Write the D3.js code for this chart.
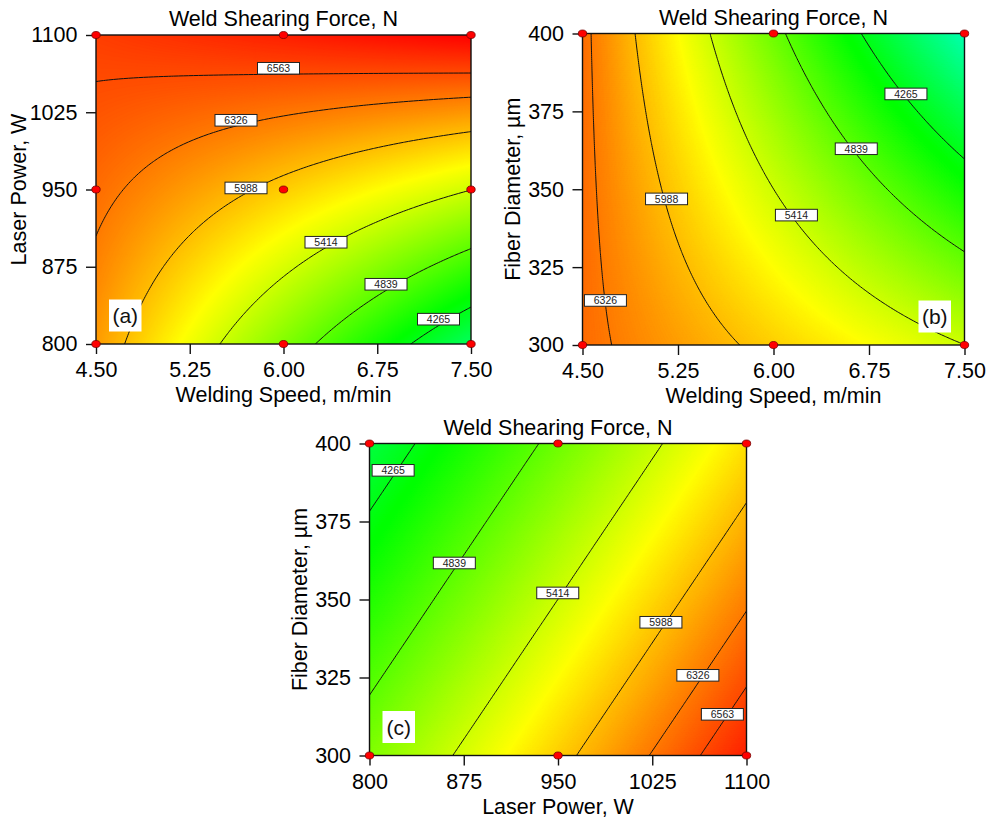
<!DOCTYPE html>
<html>
<head>
<meta charset="utf-8">
<script src="https://cdn.jsdelivr.net/npm/d3@7"></script>
<style>
  body { margin: 0; background: #fff; }
  text { font-family: "Liberation Sans", Arial, sans-serif; }
</style>
</head>
<body>
<svg id="chart" width="997" height="820"></svg>
<script>
// tick values of the three factors
const speedTicks = [4.5, 5.25, 6.0, 6.75, 7.5];
const powerTicks = [800, 875, 950, 1025, 1100];
const diameterTicks = [300, 325, 350, 375, 400];

// contour levels printed on the plots
const levels = [4265, 4839, 5414, 5988, 6326, 6563];

// weld shearing force (N) at the tick grid
// rows = y ticks from bottom to top, columns = x ticks left to right
const forceSpeedPower = [
  [6160, 5596, 5031, 4467, 3902],
  [6279, 5874, 5470, 5065, 4661],
  [6397, 6153, 5908, 5664, 5419],
  [6516, 6431, 6347, 6262, 6178],
  [6634, 6710, 6785, 6861, 6936]
];
const forceSpeedDiameter = [
  [6404, 6150, 5900, 5656, 5416],
  [6401, 6027, 5658, 5293, 4934],
  [6398, 5904, 5415, 4931, 4452],
  [6395, 5781, 5173, 4569, 3970],
  [6392, 5659, 4930, 4207, 3488]
];
const forcePowerDiameter = [
  [5027, 5465, 5902, 6340, 6777],
  [4784, 5221, 5659, 6096, 6534],
  [4540, 4978, 5415, 5853, 6290],
  [4297, 4734, 5172, 5609, 6047],
  [4053, 4491, 4928, 5366, 5803]
];

// where the contour labels sit, in data units [x, y, level]
const labelsA = [[5.96, 1067.7, 6563], [5.62, 1017.2, 6326], [5.70, 951.5, 5988],
                 [6.34, 898.8, 5414], [6.82, 858.0, 4839], [7.24, 824.1, 4265]];
const labelsB = [[4.68, 314.3, 6326], [5.16, 346.9, 5988], [6.18, 341.7, 5414],
                 [6.65, 363.0, 4839], [7.04, 380.6, 4265]];
const labelsC = [[818.8, 391.4, 4265], [867.5, 361.7, 4839], [949.8, 352.1, 5414],
                 [1031.9, 342.7, 5988], [1061.3, 325.7, 6326], [1080.8, 313.2, 6563]];

// design points shown as red dots
const pointsA = [[4.5, 800], [6, 800], [7.5, 800], [4.5, 950], [6, 950], [7.5, 950],
                 [4.5, 1100], [6, 1100], [7.5, 1100]];
const pointsB = [[4.5, 300], [6, 300], [7.5, 300], [4.5, 400], [6, 400], [7.5, 400]];
const pointsC = [[800, 300], [950, 300], [1100, 300], [800, 400], [950, 400], [1100, 400]];

const svg = d3.select('#chart');
const FONT = 21.5;
const N = 151;

// green-yellow-red colour ramp like the original software
const color = d3.scaleLinear()
  .domain([3100, 4380, 5660, 6940])
  .range(['#00ffff', '#00ff00', '#ffff00', '#ff0000'])
  .clamp(true);

const panels = [
  { grid: forceSpeedPower, xt: speedTicks, yt: powerTicks, xf: d3.format('.2f'), yf: d3.format('d'),
    xTitle: 'Welding Speed, m/min', yTitle: 'Laser Power, W', tag: '(a)',
    left: 96, right: 471, top: 35, bottom: 344, yTitleOff: 70, tagPos: 'left',
    labels: labelsA, points: pointsA },
  { grid: forceSpeedDiameter, xt: speedTicks, yt: diameterTicks, xf: d3.format('.2f'), yf: d3.format('d'),
    xTitle: 'Welding Speed, m/min', yTitle: 'Fiber Diameter, \u00b5m', tag: '(b)',
    left: 582.5, right: 964.5, top: 33.5, bottom: 345, yTitleOff: 62.5, tagPos: 'right',
    labels: labelsB, points: pointsB },
  { grid: forcePowerDiameter, xt: powerTicks, yt: diameterTicks, xf: d3.format('d'), yf: d3.format('d'),
    xTitle: 'Laser Power, W', yTitle: 'Fiber Diameter, \u00b5m', tag: '(c)',
    left: 369.5, right: 746.5, top: 443.5, bottom: 755.5, yTitleOff: 62.5, tagPos: 'left',
    labels: labelsC, points: pointsC }
];

// smooth cubic resampling of a 5-point row (ends extended quadratically)
function resample(arr, n) {
  const m = arr.length;
  const g = [3 * arr[0] - 3 * arr[1] + arr[2], ...arr, 3 * arr[m - 1] - 3 * arr[m - 2] + arr[m - 3]];
  const out = new Array(n);
  for (let k = 0; k < n; k++) {
    const u = k / (n - 1) * (m - 1);
    const i = Math.min(Math.floor(u), m - 2);
    const t = u - i;
    const p0 = g[i], p1 = g[i + 1], p2 = g[i + 2], p3 = g[i + 3];
    out[k] = 0.5 * (2 * p1 + (-p0 + p2) * t + (2 * p0 - 5 * p1 + 4 * p2 - p3) * t * t +
                    (-p0 + 3 * p1 - 3 * p2 + p3) * t * t * t);
  }
  return out;
}

function field(grid, n) {
  const rows = grid.map(r => resample(r, n));
  const values = new Float64Array(n * n);
  for (let k = 0; k < n; k++) {
    const col = resample(rows.map(r => r[k]), n);
    for (let j = 0; j < n; j++) values[j * n + k] = col[j];
  }
  return values;
}

panels.forEach((p, idx) => {
  const x = d3.scaleLinear().domain([p.xt[0], p.xt[p.xt.length - 1]]).range([p.left, p.right]);
  const y = d3.scaleLinear().domain([p.yt[0], p.yt[p.yt.length - 1]]).range([p.bottom, p.top]);
  const values = field(p.grid, N);

  // grid coordinate -> pixel
  const gx = c => x(p.xt[0] + (c - 0.5) / (N - 1) * (p.xt[p.xt.length - 1] - p.xt[0]));
  const gy = c => y(p.yt[0] + (c - 0.5) / (N - 1) * (p.yt[p.yt.length - 1] - p.yt[0]));
  const path = d3.geoPath(d3.geoTransform({
    point: function (a, b) { this.stream.point(gx(a), gy(b)); }
  }));

  const clipId = 'clip' + idx;
  svg.append('clipPath').attr('id', clipId)
    .append('rect').attr('x', p.left).attr('y', p.top)
    .attr('width', p.right - p.left).attr('height', p.bottom - p.top);

  const g = svg.append('g');
  const plot = g.append('g').attr('clip-path', `url(#${clipId})`);

  // filled colour gradient as many thin bands
  const [vmin, vmax] = d3.extent(values);
  const step = 8;
  const fine = d3.range(Math.floor(vmin / step) * step, vmax, step);
  const bands = d3.contours().size([N, N]).thresholds(fine)(values);
  plot.selectAll('path.band').data(bands).join('path')
    .attr('class', 'band')
    .attr('d', path)
    .attr('fill', d => color(d.value + step / 2))
    .attr('stroke', d => color(d.value + step / 2))
    .attr('stroke-width', 0.6);

  // contour lines
  const lines = d3.contours().size([N, N]).thresholds(levels)(values);
  plot.selectAll('path.iso').data(lines).join('path')
    .attr('class', 'iso')
    .attr('d', path)
    .attr('fill', 'none')
    .attr('stroke', '#111')
    .attr('stroke-width', 1);

  // contour labels
  const lab = plot.selectAll('g.lab').data(p.labels).join('g')
    .attr('class', 'lab')
    .attr('transform', d => `translate(${x(d[0])},${y(d[1])})`);
  lab.append('rect')
    .attr('x', -21).attr('y', -5.8).attr('width', 42).attr('height', 11.6)
    .attr('fill', '#fff').attr('stroke', '#222').attr('stroke-width', 1);
  lab.append('text')
    .attr('text-anchor', 'middle').attr('dy', '0.36em')
    .attr('font-size', 10.5).attr('fill', '#222')
    .text(d => d[2]);

  // panel tag
  const tagX = p.tagPos === 'left' ? p.left + 13 : p.right - 46;
  const tag = plot.append('g').attr('transform', `translate(${tagX},${p.bottom - 44.5})`);
  tag.append('rect').attr('width', 32.5).attr('height', 32).attr('fill', '#fff');
  tag.append('text').attr('x', 16.25).attr('y', 23.5)
    .attr('text-anchor', 'middle').attr('font-size', 21).attr('fill', '#111')
    .text(p.tag);

  // frame
  g.append('rect')
    .attr('x', p.left).attr('y', p.top)
    .attr('width', p.right - p.left).attr('height', p.bottom - p.top)
    .attr('fill', 'none').attr('stroke', '#111').attr('stroke-width', 1.4);

  // axes
  const ax = g.append('g').attr('transform', `translate(0,${p.bottom})`)
    .call(d3.axisBottom(x).tickValues(p.xt).tickFormat(p.xf).tickSize(10).tickSizeOuter(0).tickPadding(8.2));
  const ay = g.append('g').attr('transform', `translate(${p.left},0)`)
    .call(d3.axisLeft(y).tickValues(p.yt).tickFormat(p.yf).tickSize(10).tickSizeOuter(0).tickPadding(8.5));
  [ax, ay].forEach(a => {
    a.select('.domain').remove();
    a.selectAll('line').attr('stroke', '#111').attr('stroke-width', 1.4);
    a.selectAll('text').attr('font-size', FONT).attr('fill', '#000')
      .attr('font-family', '"Liberation Sans", Arial, sans-serif');
  });

  // titles
  const cx = (p.left + p.right) / 2;
  const cy = (p.top + p.bottom) / 2;
  g.append('text').attr('x', cx).attr('y', p.top - 9)
    .attr('text-anchor', 'middle').attr('font-size', FONT)
    .text('Weld Shearing Force, N');
  g.append('text').attr('x', cx).attr('y', p.bottom + 58)
    .attr('text-anchor', 'middle').attr('font-size', FONT)
    .text(p.xTitle);
  g.append('text')
    .attr('transform', `translate(${p.left - p.yTitleOff},${cy}) rotate(-90)`)
    .attr('text-anchor', 'middle').attr('font-size', FONT)
    .text(p.yTitle);

  // design points
  g.selectAll('ellipse').data(p.points).join('ellipse')
    .attr('cx', d => x(d[0])).attr('cy', d => y(d[1]))
    .attr('rx', 4.2).attr('ry', 3.5)
    .attr('fill', '#f00').attr('stroke', '#700').attr('stroke-width', 0.8);
});
</script>
</body>
</html>
